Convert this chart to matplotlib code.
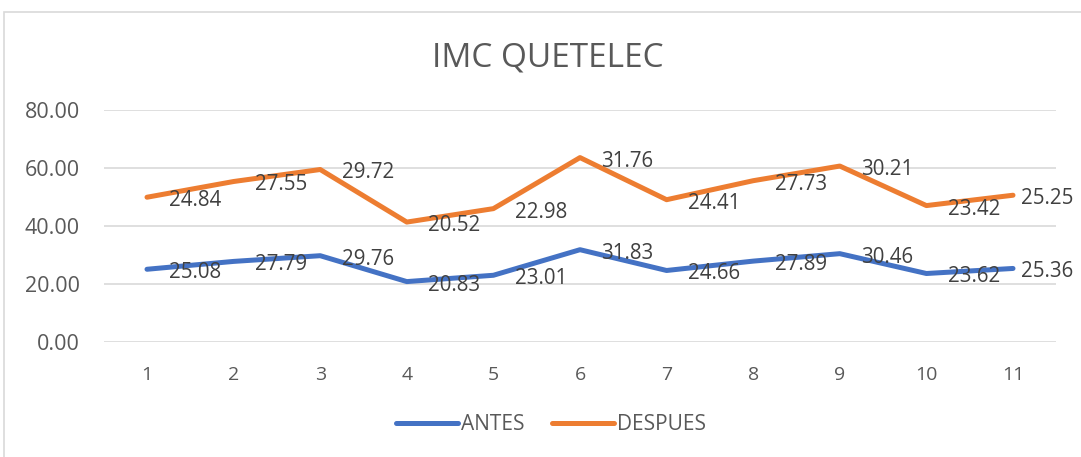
import matplotlib
matplotlib.use("Agg")
import matplotlib.pyplot as plt
from matplotlib.patches import Rectangle
import numpy as np

categories = ["1", "2", "3", "4", "5", "6", "7", "8", "9", "10", "11"]
antes = [25.08, 27.79, 29.76, 20.83, 23.01, 31.83, 24.66, 27.89, 30.46, 23.62, 25.36]
despues = [24.84, 27.55, 29.72, 20.52, 22.98, 31.76, 24.41, 27.73, 30.21, 23.42, 25.25]
yticks = [0, 20, 40, 60, 80]

BLUE = "#4472C4"
ORANGE = "#ED7D31"
TXT = "#595959"
LBL = "#404040"

plt.rcParams['font.family'] = ['Open Sans', 'DejaVu Sans']

fig = plt.figure(figsize=(10.81, 4.57), dpi=100)
# chart border
fig.patches.append(Rectangle((4/1081, -0.1), 1.2, 1 - 12/457 + 0.1, transform=fig.transFigure,
                             fill=False, edgecolor="#D9D9D9", linewidth=1.2))

ax = fig.add_axes([103.7/1081, 1 - 342/457, (1056.3-103.7)/1081, (342-110)/457])
x = np.arange(len(categories))
stack = np.array(antes) + np.array(despues)

ax.plot(x, antes, color=BLUE, lw=3.6, solid_capstyle='round', label="ANTES", zorder=3)
ax.plot(x, stack, color=ORANGE, lw=3.6, solid_capstyle='round', label="DESPUES", zorder=3)

n = len(categories)
for i, (xi, a, s, d) in enumerate(zip(x, antes, stack, despues)):
    dx = 15.5 if i < n - 1 else 6
    ax.annotate(f"{a:.2f}", (xi, a), xytext=(dx, -2.5), textcoords="offset points",
                ha="left", va="center", fontsize=14.8, color=LBL, zorder=4,
                annotation_clip=False)
    ax.annotate(f"{d:.2f}", (xi, s), xytext=(dx, -2.5), textcoords="offset points",
                ha="left", va="center", fontsize=14.8, color=LBL, zorder=4,
                annotation_clip=False)

ax.set_xlim(-0.5, len(categories) - 0.5)
ax.set_ylim(0, 80)
ax.set_yticks(yticks)
ax.set_yticklabels([f"{v:.2f}" for v in yticks])
ax.set_xticks(x)
ax.set_xticklabels(categories)
ax.grid(axis='y', color="#D9D9D9", lw=1.2)
ax.set_axisbelow(True)
for sp in ax.spines.values():
    sp.set_visible(False)
ax.tick_params(axis='both', length=0, colors=TXT)
ax.tick_params(axis='x', pad=17, labelsize=14)
ax.tick_params(axis='y', pad=17, labelsize=15.5)

fig.text(548/1081, 1 - 58/457, "IMC QUETELEC", ha="center", va="center", fontsize=24, color=TXT)

leg = fig.legend(loc="center", bbox_to_anchor=(551/1081, 1 - 425/457), ncol=2, frameon=False,
                 fontsize=15, handlelength=3.0, columnspacing=1.3, handletextpad=0.15)
for t in leg.get_texts():
    t.set_color(TXT)

fig.savefig("out.png", dpi=100)
